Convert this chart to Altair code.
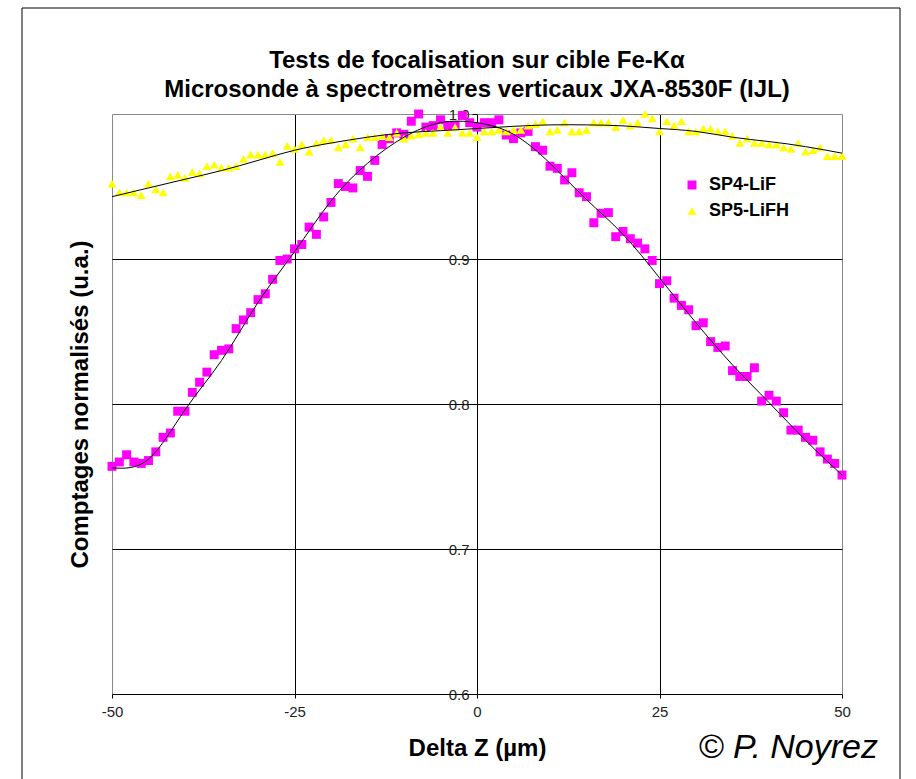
import altair as alt
import pandas as pd

dz = list(range(-50, 51))
sp4 = [0.757, 0.760, 0.765, 0.760, 0.759, 0.761, 0.767, 0.777, 0.780, 0.795,
       0.795, 0.808, 0.815, 0.822, 0.834, 0.837, 0.838, 0.852, 0.858, 0.863,
       0.872, 0.876, 0.886, 0.899, 0.900, 0.907, 0.910, 0.922, 0.917, 0.929,
       0.939, 0.952, 0.950, 0.949, 0.961, 0.957, 0.968, 0.979, 0.983, 0.987,
       0.986, 0.995, 1.000, 0.991, 0.992, 0.996, 0.992, 0.992, 0.999, 0.994,
       0.991,
       0.994, 0.994, 0.996, 0.9855, 0.983, 0.987, 0.988, 0.9775, 0.975, 0.964,
       0.9625, 0.9545, 0.9595, 0.9457, 0.943, 0.925, 0.9315, 0.932, 0.9154, 0.919,
       0.914, 0.911, 0.907, 0.899, 0.883, 0.885, 0.873, 0.868, 0.865, 0.854,
       0.856, 0.843, 0.839, 0.840, 0.823, 0.819, 0.819, 0.825, 0.802, 0.806,
       0.802, 0.794, 0.782, 0.782, 0.777, 0.775, 0.767, 0.762, 0.759, 0.751]
sp5 = [0.952, 0.946, 0.946, 0.946, 0.944, 0.952, 0.948, 0.946, 0.957, 0.958,
       0.956, 0.960, 0.959, 0.964, 0.965, 0.963, 0.963, 0.964, 0.969, 0.972,
       0.972, 0.972, 0.973, 0.967, 0.978, 0.976, 0.979, 0.974, 0.980, 0.982,
       0.982, 0.977, 0.979, 0.983, 0.977, 0.984, 0.984, 0.985, 0.984, 0.987,
       0.983, 0.985, 0.986, 0.987, 0.987, 0.991, 0.987, 0.991, 0.987, 0.987,
       0.984,
       0.988, 0.988, 0.989, 0.988, 0.989, 0.989, 0.992, 0.993, 0.995, 0.988,
       0.989, 0.994, 0.988, 0.988, 0.989, 0.994, 0.994, 0.994, 0.991, 0.996,
       0.992, 0.994, 1.000, 0.997, 0.988, 0.995, 0.992, 0.995, 0.988, 0.988,
       0.990, 0.990, 0.988, 0.988, 0.985, 0.980, 0.983, 0.980, 0.980, 0.979,
       0.979, 0.977, 0.976, 0.980, 0.974, 0.975, 0.977, 0.971, 0.971, 0.971]

fit_dz = list(range(-50, 51, 5))
fit_sp4 = [0.756, 0.762, 0.796, 0.830, 0.870, 0.905, 0.940, 0.966, 0.984, 0.994,
           0.994, 0.986, 0.966, 0.941, 0.917, 0.887, 0.856, 0.827, 0.801, 0.775, 0.751]
fit_sp5 = [0.943, 0.949, 0.955, 0.961, 0.968, 0.975, 0.980, 0.984, 0.987, 0.9885,
           0.990, 0.9915, 0.9925, 0.9925, 0.9918, 0.990, 0.988, 0.984, 0.981, 0.9775, 0.973]

series_names = ["SP4-LiF", "SP5-LiFH"]
series_colors = ["#FF00FF", "#FFFF00"]
series_shapes = ["square", "triangle-up"]
x_ticks = [-50, -25, 0, 25, 50]
y_ticks = [0.6, 0.7, 0.8, 0.9, 1.0]
title_lines = ["Tests de focalisation sur cible Fe-K\u03b1",
               "Microsonde \u00e0 spectrom\u00e8tres verticaux JXA-8530F (IJL)"]
x_title = "Delta Z (\u00b5m)"
y_title = "Comptages normalis\u00e9s (u.a.)"
credit = ["\u00a9  P. Noyrez"]

pts = pd.DataFrame({
    "dz": dz + dz,
    "val": sp4 + sp5,
    "series": [series_names[0]] * len(sp4) + [series_names[1]] * len(sp5),
})
fits = pd.DataFrame({
    "dz": fit_dz + fit_dz,
    "val": fit_sp4 + fit_sp5,
    "series": [series_names[0]] * len(fit_sp4) + [series_names[1]] * len(fit_sp5),
})

FONT = "Liberation Sans"
NARROW = "Liberation Sans Narrow, Arial Narrow, Liberation Sans"

xscale = alt.Scale(domain=[-50, 50], nice=False, zero=False)
yscale = alt.Scale(domain=[0.6, 1.0], nice=False, zero=False)

x_axis = alt.Axis(
    values=x_ticks, title=x_title, grid=True,
    gridColor={"condition": {"test": "abs(datum.value) > 49", "value": "#888888"}, "value": "#000000"},
    gridWidth=1, domainColor="#000000", domainWidth=1,
    tickColor="#000000", tickSize=4, labelFont=NARROW, labelFontSize=15,
    labelColor="#222222", labelPadding=6, labelFlush=False,
    labelExpr="'' + datum.value",
    titleFont=FONT, titleFontWeight="bold", titleFontSize=24, titleColor="#000000",
    titlePadding=17,
)
y_axis = alt.Axis(
    values=y_ticks, format=".1f", title=y_title, offset=-365, grid=True,
    gridColor={"condition": {"test": "datum.value > 0.95 || datum.value < 0.65", "value": "#888888"}, "value": "#000000"},
    gridWidth=1, domain=False, tickColor="#000000", tickSize=5,
    labelFont=NARROW, labelFontSize=15, labelColor="#222222", labelPadding=3,
    labelFlush=False,
    titleFont=FONT, titleFontWeight="bold", titleFontSize=24, titleColor="#000000",
    titleX=-397, titleY=290, titleAngle=270, titleAlign="center", titleBaseline="middle",
)

points = alt.Chart(pts).mark_point(filled=True, size=80, opacity=1, strokeWidth=0).encode(
    x=alt.X("dz:Q", scale=xscale, axis=x_axis),
    y=alt.Y("val:Q", scale=yscale, axis=y_axis),
    color=alt.Color("series:N", scale=alt.Scale(domain=series_names, range=series_colors),
                    legend=alt.Legend(title=None, orient="none", legendX=571, legendY=62,
                                      labelFont=FONT, labelFontSize=18, labelFontWeight="bold",
                                      labelColor="#000000", symbolSize=80, rowPadding=8,
                                      labelOffset=8, padding=0, symbolStrokeWidth=0)),
    shape=alt.Shape("series:N", scale=alt.Scale(domain=series_names, range=series_shapes)),
)

lines = alt.Chart(fits).mark_line(color="#000000", strokeWidth=1, interpolate="natural").encode(
    x=alt.X("dz:Q", scale=xscale),
    y=alt.Y("val:Q", scale=yscale),
    detail="series:N",
)

credit_text = alt.Chart(pd.DataFrame({"t": credit})).mark_text(
    font=FONT, fontSize=34, fontStyle="italic", align="right", baseline="middle",
    dx=36, dy=54, color="#000000",
).encode(x=alt.datum(50), y=alt.datum(0.6), text="t:N")

frame = alt.Chart(pd.DataFrame({"a": [0]})).mark_rect(
    fillOpacity=0, stroke="#000000", strokeWidth=1,
).encode(x=alt.value(-90), x2=alt.value(788), y=alt.value(-106), y2=alt.value(700))

chart = alt.layer(frame, points, lines, credit_text).properties(
    width=730, height=580,
    title=alt.TitleParams(text=title_lines, font=FONT, fontSize=24, fontWeight="bold",
                          color="#000000", lineHeight=29, offset=16, anchor="middle",
                          frame="group", baseline="bottom", dy=134),
    autosize=alt.AutoSizeParams(type="none"),
    padding={"left": 112, "top": 114, "right": 74, "bottom": 85},
).configure_view(
    fill="#B3B3B3", stroke="#888888", strokeWidth=1,
).configure(background="#FFFFFF")

chart.save("out.html", embed_options={"renderer": "svg", "actions": False})
